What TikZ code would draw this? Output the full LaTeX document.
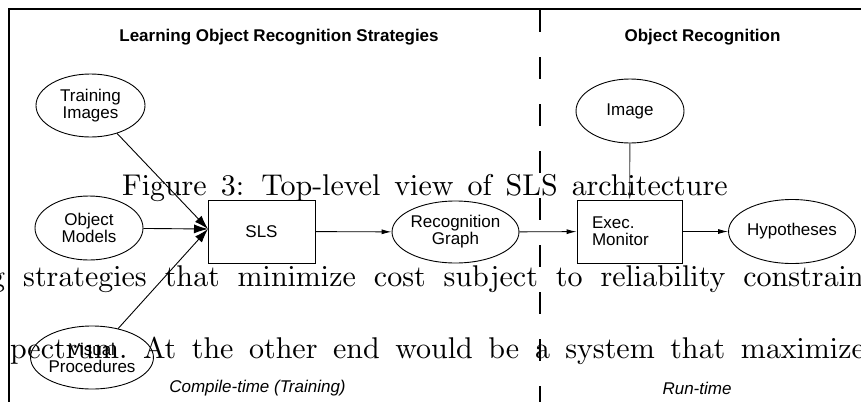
\documentclass[tikz,border=0pt]{standalone}
\usepackage{fontspec}
\newfontfamily\hv{Liberation Sans}
\font\cmbig=cmr10 at 30pt
\usetikzlibrary{shapes.geometric,arrows.meta}
\begin{document}
\begin{tikzpicture}[x=1pt,y=-1pt,
  lbl/.style={font=\hv\fontsize{17}{17}\selectfont},
  ell/.style={draw, ellipse, inner sep=0pt, lbl, align=center, line width=0.9pt},
  boxn/.style={draw, rectangle, lbl, line width=0.9pt, minimum height=63pt},
  arr/.style={line width=0.9pt, -{Latex[length=10pt,width=5pt]}},
  bigarr/.style={line width=0.9pt, -{Latex[length=14pt,width=9pt]}},
  ttl/.style={font=\hv\bfseries\fontsize{17}{17}\selectfont},
  capt/.style={font=\hv\itshape\fontsize{17}{17}\selectfont},
  ovl/.style={inner sep=0pt, anchor=base west, font=\cmbig}
]
\useasboundingbox (0,0) rectangle (861,402);
% frame
\draw[line width=2.5pt] (861,9) -- (9,9) -- (9,402);
% dashed separator
\draw[line width=2pt, dash pattern=on 22pt off 25pt] (540,10) -- (540,402);
% titles
\node[ttl] (t1) at (279,37) {Learning Object Recognition Strategies};
\node[ttl] (t2) at (702.5,37) {Object Recognition};
% nodes
\node[ell, minimum width=109pt, minimum height=63pt] (ti) at (90.5,105.5) {Training\\Images};
\node[ell, minimum width=108pt, minimum height=64pt] (om) at (89,228) {Object\\Models};
\node[ell, minimum width=110pt, minimum height=63pt] (vp) at (92,357.5) {Visual\\Procedures};
\node[boxn, minimum width=107pt] (sls) at (261.5,231.5) {SLS};
\node[ell, minimum width=107pt, minimum height=62pt] (rg) at (455.5,232) {Recognition\\Graph};
\node[boxn, text width=75pt, inner xsep=15pt, align=left] (ex) at (629.5,231.5) {Exec.\\Monitor};
\node[ell, minimum width=110pt, minimum height=64pt] (hy) at (792,231.5) {Hypotheses};
\node[ell, minimum width=108pt, minimum height=64pt] (im) at (630,111) {Image};
\coordinate (slsin) at (208,229);
% connectors
\draw[bigarr] (ti) -- (slsin);
\draw[bigarr] (om) -- (slsin);
\draw[bigarr] (vp) -- (slsin);
\draw[arr] (sls) -- (rg);
\draw[arr] (rg) -- (ex);
\draw[arr] (ex) -- (hy);
\draw[line width=0.9pt, -{Latex[length=7pt,width=4pt]}, black!80] (im) -- (ex);
% phase labels
\node[capt] (c1) at (257.5,388) {Compile-time (Training)};
\node[capt] (c2) at (697,388) {Run-time};
% overlaid page text
\begin{scope}
\clip (0,0) rectangle (861,402);
\node[ovl] (o1) at (122,195) {\spaceskip=14pt Figure 3: Top-level view of SLS architecture};
\node[ovl] (o2) at (23,286) {\spaceskip=18pt \llap{g }strategies that minimize cost subject to reliability constrain};
\node[ovl] (o3) at (143,358) {\spaceskip=15.6pt \llap{pectrum.\ }At the other end would be a system that maximize};
\end{scope}
\end{tikzpicture}
\end{document}
